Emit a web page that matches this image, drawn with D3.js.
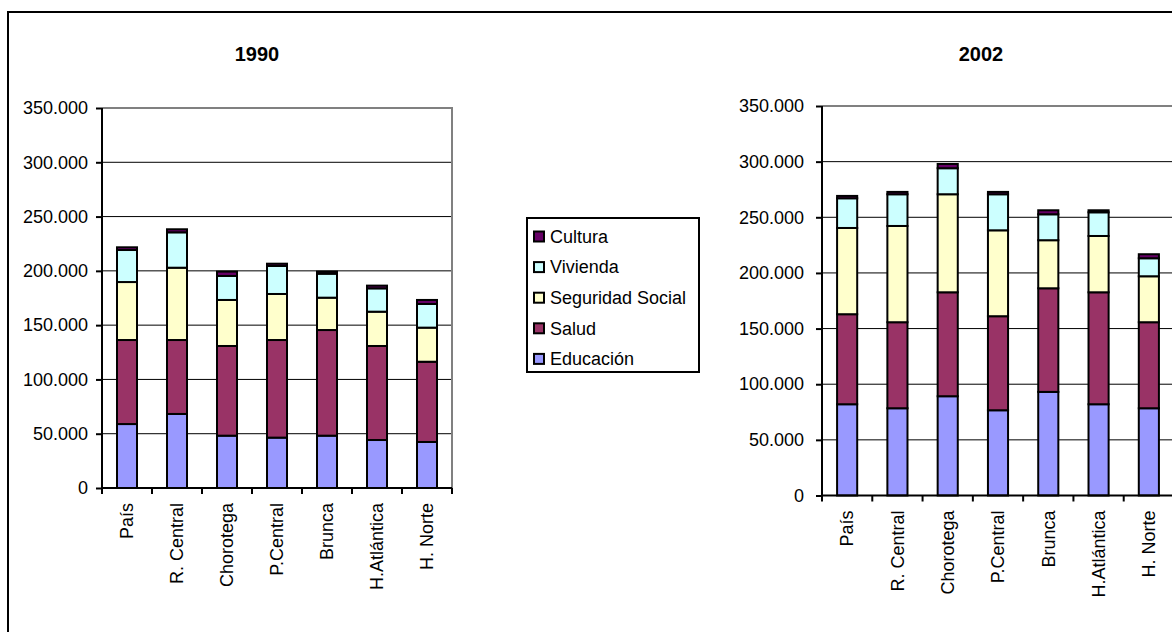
<!DOCTYPE html>
<html>
<head>
<meta charset="utf-8">
<script src="https://cdn.jsdelivr.net/npm/d3@7"></script>
<style>
  html, body { margin: 0; padding: 0; background: #fff; }
  svg { display: block; }
  text { font-family: "Liberation Sans", Arial, sans-serif; fill: #000; }
</style>
</head>
<body>
<svg id="chart" width="1172" height="632"></svg>
<script>
// Regions
const categories = ["País", "R. Central", "Chorotega", "P.Central", "Brunca", "H.Atlántica", "H. Norte"];

// Series, bottom to top of each stack
const seriesNames = ["Educación", "Salud", "Seguridad Social", "Vivienda", "Cultura"];
const seriesColors = ["#9999FF", "#993366", "#FFFFCC", "#CCFFFF", "#660066"];

// 1990
const educacion1990 = [58900, 68200, 48200, 46400, 48200, 44200, 42400];
const salud1990     = [77400, 68100, 82600, 89900, 97300, 86600, 73900];
const segSocial1990 = [53400, 66600, 42400, 42400, 29800, 31600, 31400];
const vivienda1990  = [29500, 32600, 22100, 25800, 22100, 21500, 21800];
const cultura1990   = [2500, 2800, 4000, 2100, 1900, 2500, 3700];

// 2002
const educacion2002 = [82000, 78400, 89200, 76600, 93100, 82000, 78400];
const salud2002     = [80900, 77300, 93400, 84500, 93100, 100600, 77300];
const segSocial2002 = [77500, 86500, 88100, 77200, 43200, 50600, 41300];
const vivienda2002  = [26700, 28500, 23400, 32400, 23300, 21300, 16200];
const cultura2002   = [2100, 2100, 3800, 2100, 3600, 1800, 3600];

// Value axis ticks
const yTicks = [0, 50000, 100000, 150000, 200000, 250000, 300000, 350000];

const locale = d3.formatLocale({ decimal: ",", thousands: ".", grouping: [3], currency: ["", ""] });
const fmt = locale.format(",");

const svg = d3.select("#chart");
const FONT = 18;

// Outer frame
svg.append("rect")
  .attr("x", 8).attr("y", 12)
  .attr("width", 1300).attr("height", 700)
  .attr("fill", "none").attr("stroke", "#000").attr("stroke-width", 2);

function rowsFrom(arrs) {
  return categories.map((c, i) => {
    const r = { cat: c };
    seriesNames.forEach((s, k) => { r[s] = arrs[k][i]; });
    return r;
  });
}

function drawPanel(p) {
  const g = svg.append("g");
  const x = d3.scaleBand().domain(categories).range([p.x0, p.x1]).paddingInner(0.6).paddingOuter(0.3);
  const y = d3.scaleLinear().domain([0, 350000]).range([p.y0, p.y1]);

  // Gridlines
  g.append("g").selectAll("line")
    .data(yTicks.filter(t => t > 0 && t < 350000))
    .join("line")
    .attr("x1", p.x0).attr("x2", p.x1)
    .attr("y1", d => y(d)).attr("y2", d => y(d))
    .attr("stroke", "#000").attr("stroke-width", 1);

  // Plot area frame (top and right)
  g.append("path")
    .attr("d", `M${p.x0},${y(350000)}H${p.x1}V${p.y0}`)
    .attr("fill", "none").attr("stroke", "#808080").attr("stroke-width", 2);

  // Stacked bars
  const stacked = d3.stack().keys(seriesNames)(rowsFrom(p.series));
  g.append("g").selectAll("g")
    .data(stacked)
    .join("g")
    .attr("fill", (d, i) => seriesColors[i])
    .selectAll("rect")
    .data(d => d)
    .join("rect")
    .attr("x", d => x(d.data.cat))
    .attr("width", x.bandwidth())
    .attr("y", d => y(d[1]))
    .attr("height", d => y(d[0]) - y(d[1]))
    .attr("stroke", "#000").attr("stroke-width", 2);

  // Value axis
  const yAxis = g.append("g").attr("transform", `translate(${p.x0},0)`)
    .call(d3.axisLeft(y).tickValues(yTicks).tickFormat(fmt).tickSize(6).tickPadding(p.labelPad));
  yAxis.select(".domain").attr("stroke", "#000").attr("stroke-width", 2).attr("d", `M0,${y(350000)}V${p.y0}`);
  yAxis.selectAll(".tick line").attr("stroke", "#000").attr("stroke-width", 2);
  yAxis.selectAll(".tick text")
    .attr("font-family", "Liberation Sans, Arial, sans-serif")
    .attr("font-size", FONT).attr("fill", "#000");

  // Category axis
  const boundaries = categories.map(c => x(c) - x.step() * x.paddingOuter()).concat([p.x1]);
  const xa = g.append("g");
  xa.append("line")
    .attr("x1", p.x0 - 1).attr("x2", p.x1)
    .attr("y1", p.y0).attr("y2", p.y0)
    .attr("stroke", "#000").attr("stroke-width", 2);
  xa.selectAll("line.tk")
    .data(boundaries)
    .join("line").attr("class", "tk")
    .attr("x1", d => d).attr("x2", d => d)
    .attr("y1", p.y0).attr("y2", p.y0 + 6)
    .attr("stroke", "#000").attr("stroke-width", 2);
  xa.selectAll("text")
    .data(categories)
    .join("text")
    .attr("transform", d => `translate(${x(d) + x.bandwidth() / 2},${p.y0 + 15}) rotate(-90)`)
    .attr("text-anchor", "end")
    .attr("dy", "0.35em")
    .attr("font-size", FONT)
    .text(d => d);

  // Title
  svg.append("text")
    .attr("x", p.titleX).attr("y", 61)
    .attr("text-anchor", "middle")
    .attr("font-size", 20).attr("font-weight", "bold")
    .text(p.title);
}

drawPanel({
  title: "1990", titleX: 257,
  x0: 102, x1: 452, y0: 488, y1: 108, labelPad: 8,
  series: [educacion1990, salud1990, segSocial1990, vivienda1990, cultura1990]
});

drawPanel({
  title: "2002", titleX: 981,
  x0: 822, x1: 1174, y0: 495.5, y1: 106, labelPad: 12,
  series: [educacion2002, salud2002, segSocial2002, vivienda2002, cultura2002]
});

// Legend, listed top to bottom in reverse stacking order
const legend = svg.append("g");
legend.append("rect")
  .attr("x", 527).attr("y", 218)
  .attr("width", 172).attr("height", 154)
  .attr("fill", "#fff").attr("stroke", "#000").attr("stroke-width", 2);
const legendItems = seriesNames.map((s, i) => ({ name: s, color: seriesColors[i] })).reverse();
const li = legend.selectAll("g.item")
  .data(legendItems)
  .join("g").attr("class", "item")
  .attr("transform", (d, i) => `translate(0,${236.5 + i * 30.6})`);
li.append("rect")
  .attr("x", 534).attr("y", -5)
  .attr("width", 10).attr("height", 10)
  .attr("fill", d => d.color).attr("stroke", "#000").attr("stroke-width", 2);
li.append("text")
  .attr("x", 550).attr("y", 0).attr("dy", "0.35em")
  .attr("font-size", FONT)
  .text(d => d.name);
</script>
</body>
</html>
